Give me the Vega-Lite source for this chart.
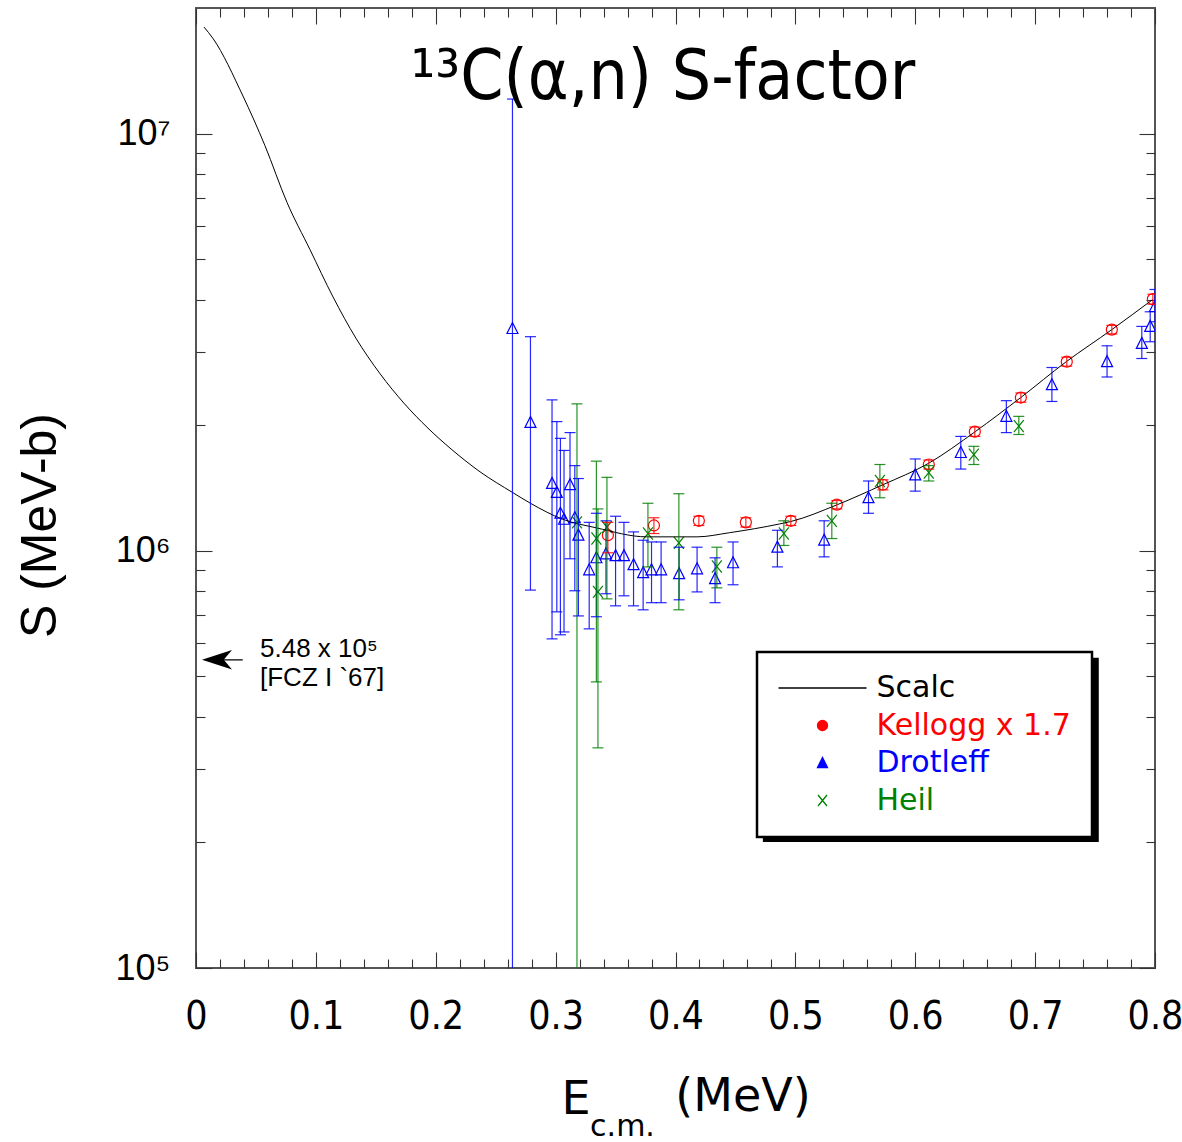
{
"$schema":"https://vega.github.io/schema/vega-lite/v6.json",
"width":959,"height":960,
"autosize":{"type":"none"},
"padding":{"left":196,"top":8,"right":27,"bottom":174},
"background":"white",
"config":{"view":{"stroke":"#555555","strokeWidth":2},"axis":{"domain":false,"grid":false,"labelOverlap":false,"labelFlush":false,"tickColor":"#333333","tickWidth":1.1,"labelColor":"black","titleColor":"black","titleFontWeight":"normal"},"legend":{"strokeWidth":2.5,"symbolFillColor":"transparent"}},
"datasets":{
"curve":[
{"series":"Scalc","E":0.0067,"S":18000000},{"series":"Scalc","E":0.0142,"S":16900000},{"series":"Scalc","E":0.0392,"S":12300000},{"series":"Scalc","E":0.0575,"S":9360000},{"series":"Scalc","E":0.0759,"S":6840000},{"series":"Scalc","E":0.0951,"S":5270000},{"series":"Scalc","E":0.1143,"S":4060000},{"series":"Scalc","E":0.1334,"S":3233000},{"series":"Scalc","E":0.1535,"S":2658000},{"series":"Scalc","E":0.1735,"S":2258000},{"series":"Scalc","E":0.1935,"S":1968000},{"series":"Scalc","E":0.2135,"S":1747000},{"series":"Scalc","E":0.237,"S":1546000},{"series":"Scalc","E":0.264,"S":1380000},{"series":"Scalc","E":0.279,"S":1300000},{"series":"Scalc","E":0.306,"S":1190000},{"series":"Scalc","E":0.334,"S":1135000},{"series":"Scalc","E":0.376,"S":1080000},{"series":"Scalc","E":0.418,"S":1080000},{"series":"Scalc","E":0.445,"S":1105000},{"series":"Scalc","E":0.487,"S":1160000},{"series":"Scalc","E":0.496,"S":1175000},{"series":"Scalc","E":0.535,"S":1290000},{"series":"Scalc","E":0.573,"S":1440000},{"series":"Scalc","E":0.611,"S":1620000},{"series":"Scalc","E":0.650,"S":1930000},{"series":"Scalc","E":0.688,"S":2330000},{"series":"Scalc","E":0.726,"S":2840000},{"series":"Scalc","E":0.764,"S":3390000},{"series":"Scalc","E":0.798,"S":4000000}
],
"pts":[
{"series":"Drotleff","E":0.264,"S":3410000,"lo":50000,"hi":12100000},
{"series":"Drotleff","E":0.279,"S":2030000,"lo":805000,"hi":3260000},
{"series":"Drotleff","E":0.297,"S":1450000,"lo":615000,"hi":2300000},
{"series":"Drotleff","E":0.301,"S":1380000,"lo":714000,"hi":2040000},
{"series":"Drotleff","E":0.304,"S":1230000,"lo":629000,"hi":1860000},
{"series":"Drotleff","E":0.307,"S":1190000,"lo":639000,"hi":1740000},
{"series":"Drotleff","E":0.312,"S":1440000,"lo":957000,"hi":1920000},
{"series":"Drotleff","E":0.316,"S":1200000,"lo":802000,"hi":1600000},
{"series":"Drotleff","E":0.319,"S":1090000,"lo":698000,"hi":1490000},
{"series":"Drotleff","E":0.328,"S":900000,"lo":650000,"hi":1170000},
{"series":"Drotleff","E":0.334,"S":962000,"lo":695000,"hi":1230000},
{"series":"Drotleff","E":0.342,"S":983000,"lo":789000,"hi":1180000},
{"series":"Drotleff","E":0.350,"S":973000,"lo":738000,"hi":1210000},
{"series":"Drotleff","E":0.357,"S":973000,"lo":780000,"hi":1170000},
{"series":"Drotleff","E":0.365,"S":926000,"lo":738000,"hi":1110000},
{"series":"Drotleff","E":0.373,"S":886000,"lo":722000,"hi":1060000},
{"series":"Drotleff","E":0.380,"S":900000,"lo":751000,"hi":1050000},
{"series":"Drotleff","E":0.388,"S":900000,"lo":751000,"hi":1050000},
{"series":"Drotleff","E":0.403,"S":881000,"lo":763000,"hi":1020000},
{"series":"Drotleff","E":0.418,"S":905000,"lo":797000,"hi":1020000},
{"series":"Drotleff","E":0.433,"S":857000,"lo":751000,"hi":962000},
{"series":"Drotleff","E":0.448,"S":936000,"lo":829000,"hi":1050000},
{"series":"Drotleff","E":0.485,"S":1020000,"lo":915000,"hi":1120000},
{"series":"Drotleff","E":0.524,"S":1060000,"lo":967000,"hi":1180000},
{"series":"Drotleff","E":0.561,"S":1340000,"lo":1230000,"hi":1470000},
{"series":"Drotleff","E":0.600,"S":1520000,"lo":1390000,"hi":1660000},
{"series":"Drotleff","E":0.638,"S":1720000,"lo":1570000,"hi":1880000},
{"series":"Drotleff","E":0.676,"S":2100000,"lo":1920000,"hi":2290000},
{"series":"Drotleff","E":0.714,"S":2500000,"lo":2280000,"hi":2750000},
{"series":"Drotleff","E":0.760,"S":2840000,"lo":2610000,"hi":3100000},
{"series":"Drotleff","E":0.789,"S":3140000,"lo":2890000,"hi":3450000},
{"series":"Drotleff","E":0.796,"S":3450000,"lo":3170000,"hi":3740000},
{"series":"Drotleff","E":0.800,"S":3850000,"lo":3540000,"hi":4230000},
{"series":"Kellogg x 1.7","E":0.3436,"S":1090000,"lo":989000,"hi":1170000},
{"series":"Kellogg x 1.7","E":0.382,"S":1150000,"lo":1100000,"hi":1200000},
{"series":"Kellogg x 1.7","E":0.4195,"S":1180000,"lo":1150000,"hi":1210000},
{"series":"Kellogg x 1.7","E":0.4587,"S":1170000,"lo":1140000,"hi":1200000},
{"series":"Kellogg x 1.7","E":0.4962,"S":1180000,"lo":1150000,"hi":1210000},
{"series":"Kellogg x 1.7","E":0.5346,"S":1290000,"lo":1260000,"hi":1320000},
{"series":"Kellogg x 1.7","E":0.573,"S":1440000,"lo":1400000,"hi":1480000},
{"series":"Kellogg x 1.7","E":0.6113,"S":1610000,"lo":1570000,"hi":1650000},
{"series":"Kellogg x 1.7","E":0.6497,"S":1930000,"lo":1880000,"hi":1980000},
{"series":"Kellogg x 1.7","E":0.6881,"S":2330000,"lo":2270000,"hi":2390000},
{"series":"Kellogg x 1.7","E":0.7264,"S":2840000,"lo":2770000,"hi":2910000},
{"series":"Kellogg x 1.7","E":0.764,"S":3390000,"lo":3310000,"hi":3470000},
{"series":"Kellogg x 1.7","E":0.7982,"S":4010000,"lo":3900000,"hi":4120000},
{"series":"Heil","E":0.3178,"S":1170000,"lo":80000,"hi":2250000},
{"series":"Heil","E":0.334,"S":1070000,"lo":485000,"hi":1640000},
{"series":"Heil","E":0.3353,"S":797000,"lo":337000,"hi":1260000},
{"series":"Heil","E":0.3428,"S":1140000,"lo":767000,"hi":1500000},
{"series":"Heil","E":0.377,"S":1100000,"lo":915000,"hi":1300000},
{"series":"Heil","E":0.4028,"S":1045000,"lo":722000,"hi":1370000},
{"series":"Heil","E":0.4345,"S":917000,"lo":815000,"hi":1020000},
{"series":"Heil","E":0.4904,"S":1100000,"lo":1030000,"hi":1180000},
{"series":"Heil","E":0.5304,"S":1180000,"lo":1070000,"hi":1300000},
{"series":"Heil","E":0.5705,"S":1470000,"lo":1340000,"hi":1610000},
{"series":"Heil","E":0.6113,"S":1540000,"lo":1470000,"hi":1600000},
{"series":"Heil","E":0.6489,"S":1700000,"lo":1610000,"hi":1780000},
{"series":"Heil","E":0.6864,"S":1990000,"lo":1900000,"hi":2100000}
]
},
"layer":[
{
"data":{"values":[{}]},
"mark":{"type":"rect","color":"black"},
"encoding":{
"x":{"datum":0.4729,"type":"quantitative","axis":null},
"x2":{"datum":0.7531},
"y":{"datum":554000,"type":"quantitative","axis":null},
"y2":{"datum":200500}
}
},
{
"data":{"name":"pts"},
"mark":{"type":"point","filled":false,"size":121,"strokeWidth":1.2,"opacity":1,"clip":true},
"encoding":{
"x":{"field":"E","type":"quantitative","axis":null},
"y":{"field":"S","type":"quantitative","axis":null},
"color":{"field":"series","type":"nominal","scale":{"domain":["Scalc","Kellogg x 1.7","Drotleff","Heil"],"range":["#000000","#ff0000","#0000ff","#008000"]},
"legend":{"orient":"none","legendX":561,"legendY":644,"title":null,"fillColor":"white","strokeColor":"black","padding":21,"labelFont":"DejaVu Sans","labelFontSize":30,"labelColor":{"expr":"scale('color', datum.value)"},"labelOffset":39,"symbolOffset":29.5,"symbolSize":100,"symbolStrokeWidth":1.3,"symbolFillColor":"transparent","rowPadding":7.5,"labelLimit":400,
"encode":{"symbols":{"fill":{"value":"transparent"},"fillOpacity":{"value":0}}}}},
"shape":{"field":"series","type":"nominal","scale":{"domain":["Scalc","Kellogg x 1.7","Drotleff","Heil"],"range":["M-8.8,0L8.8,0","circle","M0,-1.1L-1,0.9L1,0.9Z","M-0.9,-1.1L0.9,1.1M-0.9,1.1L0.9,-1.1"]},
"legend":{"orient":"none","legendX":561,"legendY":644,"title":null,"fillColor":"white","strokeColor":"black","padding":21,"labelFont":"DejaVu Sans","labelFontSize":30,"labelColor":{"expr":"scale('color', datum.value)"},"labelOffset":39,"symbolOffset":29.5,"symbolSize":100,"symbolStrokeWidth":1.3,"symbolFillColor":"transparent","rowPadding":7.5,"labelLimit":400,
"encode":{"symbols":{"fill":{"value":"transparent"},"fillOpacity":{"value":0}}}}}
}
},
{
"data":{"name":"curve"},
"mark":{"type":"line","strokeWidth":1,"interpolate":"monotone","clip":true},
"encoding":{
"x":{"field":"E","type":"quantitative","scale":{"domain":[0,0.8],"nice":false,"zero":false},
"axis":{"orient":"bottom","values":[0,0.1,0.2,0.3,0.4,0.5,0.6,0.7,0.8],"format":"~g","offset":-16,"tickSize":16,"labelPadding":29,"labelFont":"Liberation Sans Narrow, DejaVu Sans Condensed, Liberation Sans","labelFontSize":39,
"title":"E","titleFont":"DejaVu Sans","titleFontSize":46,"titleX":379.5,"titleY":161,"titleAlign":"center","titleBaseline":"alphabetic"}},
"y":{"field":"S","type":"quantitative","scale":{"type":"log","domain":[100000,20000000],"nice":false},
"axis":{"orient":"left","values":[100000,1000000,10000000],"labelExpr":"datum.value == 100000 ? '10⁵' : (datum.value == 1000000 ? '10⁶' : '10⁷')","offset":-16,"tickSize":16,"labelPadding":26,"labelFont":"Liberation Sans","labelFontSize":36,
"title":"S (MeV-b)","titleFont":"Liberation Sans","titleFontSize":50,"titleX":-172,"titleY":517,"titleAlign":"center","titleBaseline":"middle"}},
"color":{"field":"series","type":"nominal","scale":{"domain":["Scalc","Kellogg x 1.7","Drotleff","Heil"],"range":["#000000","#ff0000","#0000ff","#008000"]},"legend":null}
}
},
{
"data":{"name":"pts"},
"mark":{"type":"rule","strokeWidth":1.2,"opacity":0.85,"clip":true},
"encoding":{
"x":{"field":"E","type":"quantitative","axis":{"orient":"bottom","values":[0.02,0.04,0.06,0.08,0.12,0.14,0.16,0.18,0.22,0.24,0.26,0.28,0.32,0.34,0.36,0.38,0.42,0.44,0.46,0.48,0.52,0.54,0.56,0.58,0.62,0.64,0.66,0.68,0.72,0.74,0.76,0.78],"offset":-9,"tickSize":9,"labels":false,
"title":"(MeV)","titleFont":"DejaVu Sans","titleFontSize":46,"titleX":546.5,"titleY":151,"titleAlign":"center","titleBaseline":"alphabetic"}},
"y":{"field":"lo","type":"quantitative","axis":{"orient":"left","values":[200000,300000,400000,500000,600000,700000,800000,900000,2000000,3000000,4000000,5000000,6000000,7000000,8000000,9000000],"offset":-9,"tickSize":9,"labels":false,"title":null}},
"y2":{"field":"hi"},
"color":{"field":"series","type":"nominal","scale":{"domain":["Scalc","Kellogg x 1.7","Drotleff","Heil"],"range":["#000000","#ff0000","#0000ff","#008000"]},"legend":null}
}
},
{
"data":{"name":"pts"},
"mark":{"type":"tick","orient":"horizontal","size":11,"thickness":1.2,"opacity":0.85,"clip":true},
"encoding":{
"x":{"field":"E","type":"quantitative","axis":{"orient":"top","values":[0,0.1,0.2,0.3,0.4,0.5,0.6,0.7,0.8],"offset":-16,"tickSize":16,"labels":false,
"title":"c.m.","titleFont":"DejaVu Sans","titleFontSize":30,"titleX":426,"titleY":1111,"titleAlign":"center","titleBaseline":"alphabetic"}},
"y":{"field":"hi","type":"quantitative","axis":{"orient":"right","values":[100000,1000000,10000000],"offset":-16,"tickSize":16,"labels":false,"title":null}},
"color":{"field":"series","type":"nominal","scale":{"domain":["Scalc","Kellogg x 1.7","Drotleff","Heil"],"range":["#000000","#ff0000","#0000ff","#008000"]},"legend":null}
}
},
{
"data":{"name":"pts"},
"mark":{"type":"tick","orient":"horizontal","size":11,"thickness":1.2,"opacity":0.85,"clip":true},
"encoding":{
"x":{"field":"E","type":"quantitative","axis":{"orient":"top","values":[0.02,0.04,0.06,0.08,0.12,0.14,0.16,0.18,0.22,0.24,0.26,0.28,0.32,0.34,0.36,0.38,0.42,0.44,0.46,0.48,0.52,0.54,0.56,0.58,0.62,0.64,0.66,0.68,0.72,0.74,0.76,0.78],"offset":-9,"tickSize":9,"labels":false,"title":null}},
"y":{"field":"lo","type":"quantitative","axis":{"orient":"right","values":[200000,300000,400000,500000,600000,700000,800000,900000,2000000,3000000,4000000,5000000,6000000,7000000,8000000,9000000],"offset":-9,"tickSize":9,"labels":false,"title":null}},
"color":{"field":"series","type":"nominal","scale":{"domain":["Scalc","Kellogg x 1.7","Drotleff","Heil"],"range":["#000000","#ff0000","#0000ff","#008000"]},"legend":null}
}
},
{
"data":{"values":[{}]},
"mark":{"type":"text","text":"¹³C(α,n) S-factor","font":"Liberation Sans Narrow, DejaVu Sans Condensed, Liberation Sans","fontSize":69,"align":"center","baseline":"alphabetic","color":"black"},
"encoding":{
"x":{"datum":0.3895,"type":"quantitative","axis":null},
"y":{"datum":12130000,"type":"quantitative","axis":null}
}
},
{
"data":{"values":[{}]},
"mark":{"type":"rule","color":"black","strokeWidth":1.3},
"encoding":{
"x":{"datum":0.01,"type":"quantitative","axis":null},
"x2":{"datum":0.039},
"y":{"datum":548000,"type":"quantitative","axis":null}
}
},
{
"data":{"values":[{}]},
"mark":{"type":"point","shape":"M-1,0L1,-0.65L0.45,0L1,0.65Z","filled":true,"size":900,"color":"black","opacity":1},
"encoding":{
"x":{"datum":0.0175,"type":"quantitative","axis":null},
"y":{"datum":548000,"type":"quantitative","axis":null}
}
},
{
"data":{"values":[{}]},
"mark":{"type":"text","text":["5.48 x 10⁵","[FCZ I `67]"],"font":"Liberation Sans","fontSize":26,"lineHeight":29,"align":"left","baseline":"alphabetic","dy":-3,"color":"black"},
"encoding":{
"x":{"datum":0.0534,"type":"quantitative","axis":null},
"y":{"datum":548000,"type":"quantitative","axis":null}
}
}
],
"resolve":{"axis":{"x":"independent","y":"independent"}}
}
